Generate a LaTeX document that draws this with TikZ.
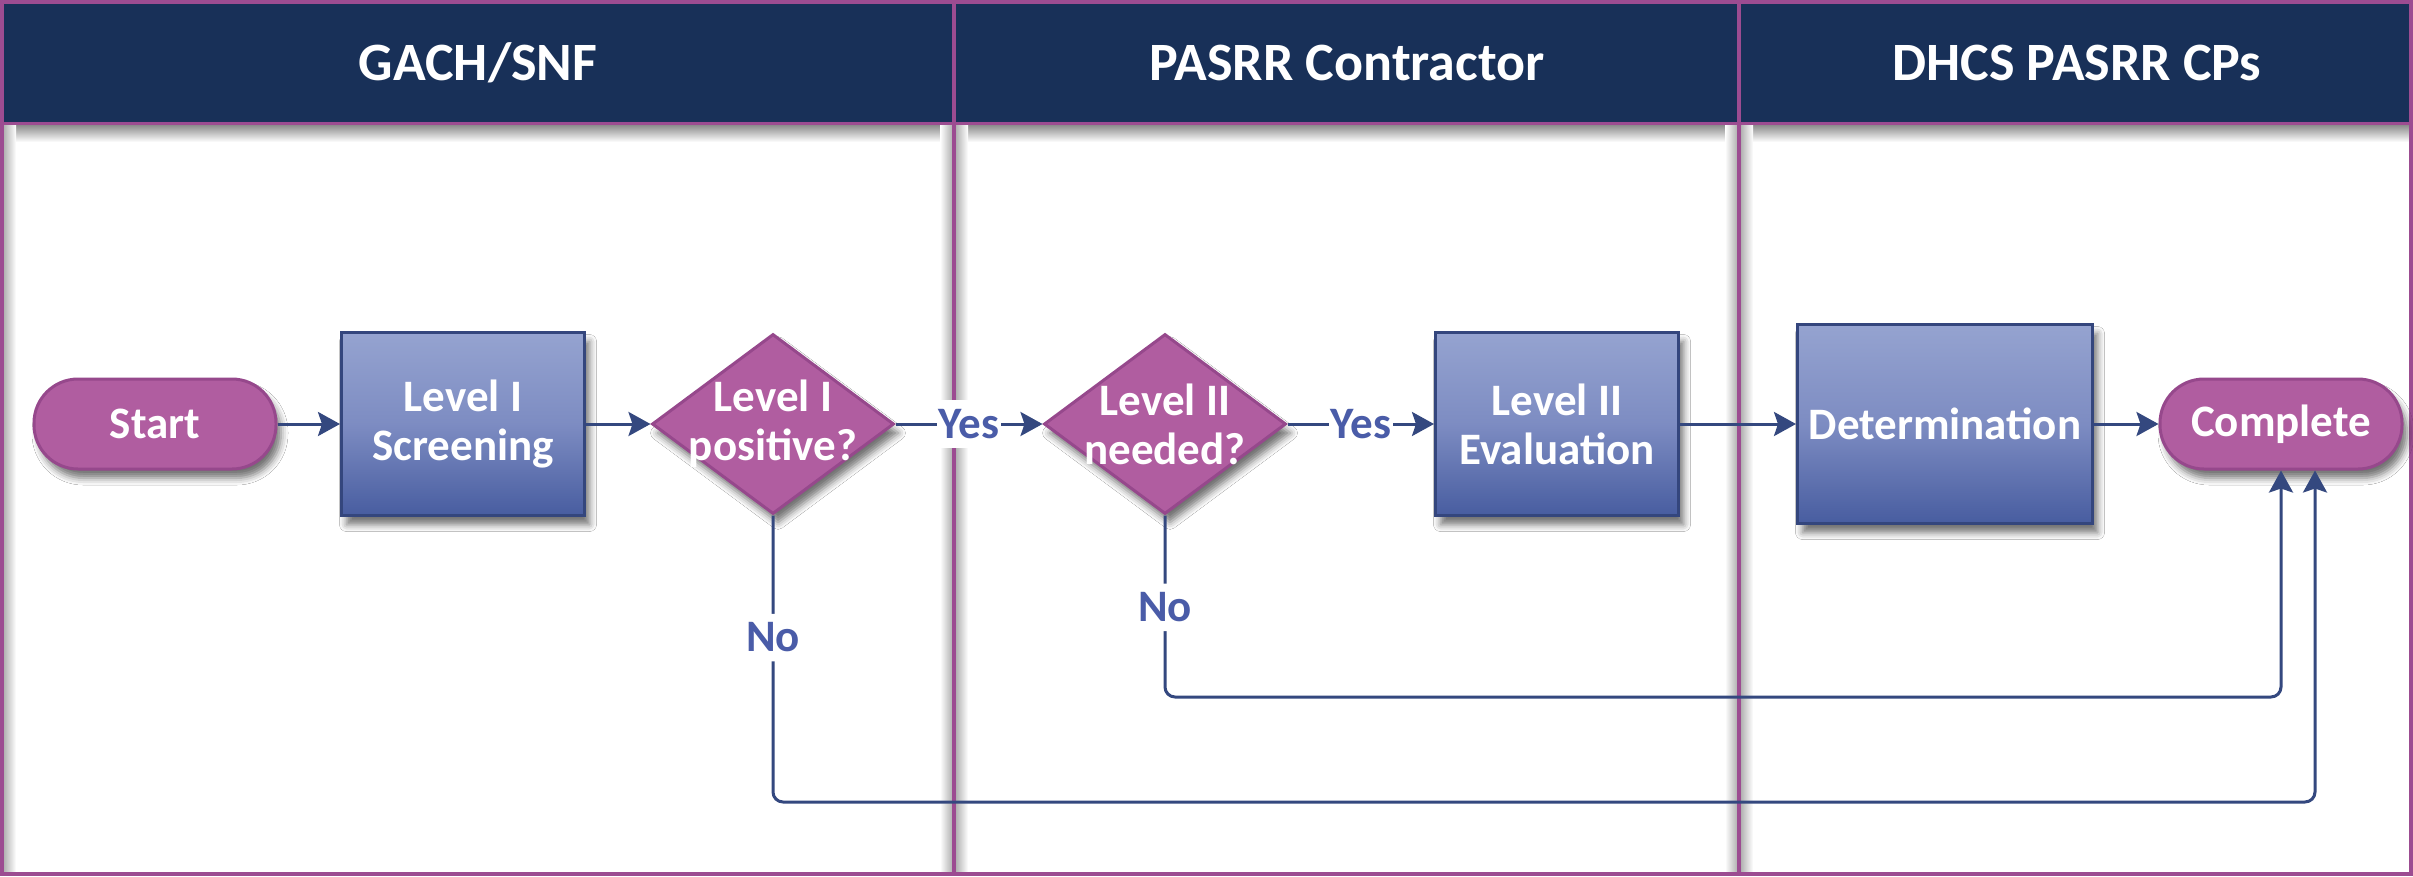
\documentclass[tikz,border=0pt]{standalone}
\usepackage{fontspec}
\setmainfont{Carlito}
\usetikzlibrary{shapes.geometric,arrows.meta,shadows.blur,calc}
\definecolor{navy}{RGB}{24,48,88}
\definecolor{lanepurple}{RGB}{156,76,145}
\definecolor{pfill}{RGB}{176,93,160}
\definecolor{pdraw}{RGB}{150,72,140}
\definecolor{btop}{RGB}{149,163,208}
\definecolor{bmid}{RGB}{125,140,194}
\definecolor{bbot}{RGB}{72,93,160}
\definecolor{bdraw}{RGB}{52,70,125}
\definecolor{linec}{RGB}{52,72,127}
\definecolor{labc}{RGB}{74,92,168}
\begin{document}
\begin{tikzpicture}[x=1pt,y=-1pt,
  shad/.style={blur shadow={shadow xshift=5pt,shadow yshift=-9pt,shadow blur radius=7pt,shadow opacity=55}},
  txt/.style={text=white,font=\fontsize{45}{49}\selectfont\bfseries,align=center},
  pill/.style={shape=rectangle,rounded corners=44pt,minimum width=242pt,minimum height=90pt,fill=pfill,draw=pdraw,line width=3pt,shad,txt},
  procbox/.style={shape=rectangle,top color=btop,bottom color=bbot,middle color=bmid,draw=bdraw,line width=3pt,shad,txt,inner sep=0pt},
  dia/.style={shape=diamond,minimum width=242pt,minimum height=180pt,inner sep=0pt,fill=pfill,draw=pdraw,line width=3pt,shad},
  conn/.style={draw=linec,line width=3pt,-{Stealth[length=22pt,width=24pt,inset=4pt]}},
  lab/.style={fill=white,text=labc,font=\fontsize{45}{49}\selectfont\bfseries,inner xsep=2pt,inner ysep=9pt},
  hdr/.style={text=white,font=\fontsize{54}{60}\selectfont\bfseries},
]
\useasboundingbox (0,0) rectangle (2413,876);
\fill[white] (0,0) rectangle (2413,876);
% header band
\fill[navy] (2,2) rectangle (2411,123);
% shadows
\shade[top color=black!45,bottom color=white] (4,125) rectangle (2409,142);
\shade[left color=black!30,right color=white] (4,123) rectangle (16,874);
\shade[left color=white,right color=black!30] (940,123) rectangle (952,874);
\shade[left color=black!30,right color=white] (956,123) rectangle (968,874);
\shade[left color=white,right color=black!30] (1725,123) rectangle (1737,874);
\shade[left color=black!30,right color=white] (1741,123) rectangle (1753,874);
% lanes
\draw[lanepurple,line width=4pt] (2,2) rectangle (954,874);
\draw[lanepurple,line width=4pt] (954,2) rectangle (1739,874);
\draw[lanepurple,line width=4pt] (1739,2) rectangle (2411,874);
\draw[lanepurple,line width=3pt] (2,123) -- (2411,123);
\node[hdr,anchor=base] (h1) at (478,80) {GACH/SNF};
\node[hdr,anchor=base] (h2) at (1347,80) {PASRR Contractor};
\node[hdr,anchor=base] (h3) at (2077,80) {DHCS PASRR CPs};
% nodes
\node[pill] (start) at (155,424) {Start};
\node[procbox,minimum width=243pt,minimum height=183pt] (scr) at (463,424) {Level I\\Screening};
\node[dia] (d1) at (773,424) {};
\node[txt] (d1t) at (d1) {Level I\\positive?};
\node[dia] (d2) at (1165,424) {};
\node[txt] (d2t) at (d2) {Level II\\needed?};
\node[procbox,minimum width=243pt,minimum height=183pt] (eval) at (1557,424) {Level II\\Evaluation};
\node[procbox,minimum width=295pt,minimum height=199pt] (det) at (1945,424) {Determination};
\node[pill] (comp) at (2281,424) {Complete};
% connectors
\draw[conn] (start) -- (scr);
\draw[conn] (scr) -- (d1);
\draw[conn] (d1) -- (d2) node[lab,pos=0.5] (y1) {Yes};
\draw[conn] (d2) -- (eval) node[lab,pos=0.5] (y2) {Yes};
\draw[conn] (eval) -- (det);
\draw[conn] (det) -- (comp);
\coordinate (c1) at (2315,802);
\coordinate (c2) at (2281,697);
\draw[conn,rounded corners=10pt] (d1.south) |- (c1) node[lab,pos=0.213] (n1) {No} -- (comp.south -| c1);
\draw[conn,rounded corners=10pt] (d2.south) |- (c2) node[lab,pos=0.253] (n2) {No} -- (comp.south);
\end{tikzpicture}
\end{document}
